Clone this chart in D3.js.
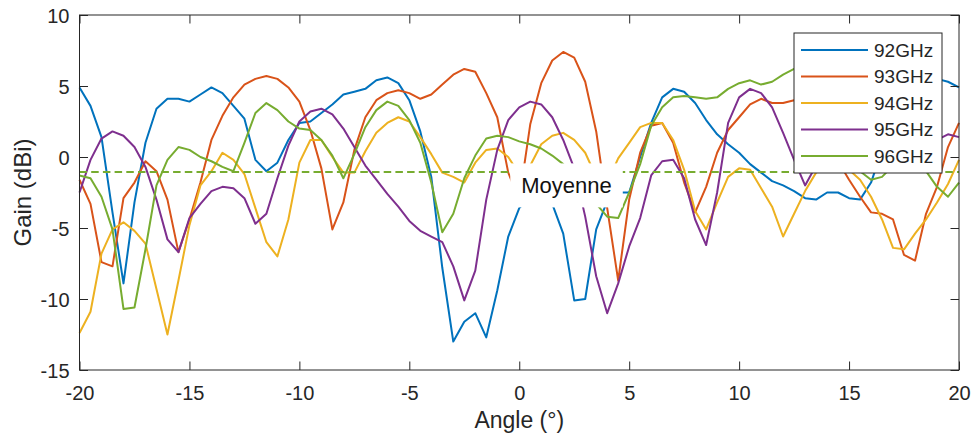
<!DOCTYPE html>
<html>
<head>
<meta charset="utf-8">
<script src="https://cdn.jsdelivr.net/npm/d3@7"></script>
<style>
  html, body { margin: 0; padding: 0; background: #fff; }
  svg { display: block; }
  text { font-family: "Liberation Sans", Arial, Helvetica, sans-serif; fill: #262626; }
</style>
</head>
<body>
<svg id="chart" width="975" height="436"></svg>
<script>
// ---- data ----
const angles = [-20,-19.5,-19,-18.5,-18,-17.5,-17,-16.5,-16,-15.5,-15,-14.5,-14,-13.5,-13,-12.5,-12,-11.5,-11,-10.5,
  -10,-9.5,-9,-8.5,-8,-7.5,-7,-6.5,-6,-5.5,-5,-4.5,-4,-3.5,-3,-2.5,-2,-1.5,-1,-0.5,
  0,0.5,1,1.5,2,2.5,3,3.5,4,4.5,5,5.5,6,6.5,7,7.5,8,8.5,9,9.5,
  10,10.5,11,11.5,12,12.5,13,13.5,14,14.5,15,15.5,16,16.5,17,17.5,18,18.5,19,19.5,20];

const gain92 = [4.9,3.6,1.4,-3.9,-8.9,-3.2,1.0,3.4,4.1,4.1,3.9,4.4,4.9,4.5,3.6,2.7,-0.2,-1.0,-0.4,1.2,
  2.4,2.5,3.1,3.7,4.4,4.6,4.8,5.4,5.6,5.2,4.0,1.8,-1.4,-7.8,-13.0,-11.6,-11.0,-12.7,-9.4,-5.6,
  -3.6,-2.8,-2.5,-3.3,-5.4,-10.1,-10.0,-5.1,-3.1,-2.5,-2.5,0.0,2.4,4.2,4.8,4.6,3.8,2.6,1.6,0.9,
  0.3,-0.5,-1.1,-1.7,-2.0,-2.4,-2.9,-3.0,-2.5,-2.5,-2.9,-3.0,-1.8,0.5,2.5,4.0,5.0,5.5,5.5,5.3,4.9];

const gain93 = [-1.6,-3.3,-7.4,-7.7,-2.9,-1.8,-0.3,-1.0,-3.0,-6.7,-4.4,-1.8,1.2,2.9,4.2,5.1,5.5,5.7,5.5,4.9,
  3.9,1.9,-0.8,-5.1,-3.2,0.5,2.8,4.0,4.5,4.7,4.5,4.1,4.4,5.1,5.8,6.2,6.0,4.5,2.8,-1.1,
  -3.0,2.3,5.2,6.8,7.4,7.0,5.3,1.8,-3.6,-8.7,-3.0,0.3,2.2,2.4,1.0,-1.8,-3.9,-2.1,0.3,1.9,
  2.8,3.7,4.1,3.8,3.8,4.0,3.5,2.5,1.0,-0.3,-1.6,-2.8,-3.9,-4.0,-4.4,-6.9,-7.3,-4.0,-2.1,0.7,2.4];

const gain94 = [-12.4,-10.9,-6.8,-5.1,-4.6,-5.2,-6.1,-9.3,-12.5,-8.7,-4.8,-2.0,-1.0,0.3,-0.2,-1.2,-3.6,-6.0,-7.0,-4.4,
  -0.4,1.2,1.2,0.0,-1.1,-1.1,0.4,1.7,2.4,2.8,2.5,1.4,0.2,-1.1,-1.4,-1.8,-0.4,0.5,0.6,0.0,
  -1.2,-0.6,0.9,1.5,1.7,1.2,0.3,-1.4,-1.8,-0.1,1.0,2.1,2.4,2.4,1.2,-0.9,-3.8,-5.1,-3.2,-1.4,
  -0.8,-0.9,-2.2,-3.5,-5.6,-4.0,-2.4,-1.1,-0.8,-0.7,-0.9,-1.6,-2.8,-4.4,-6.4,-6.5,-5.4,-4.4,-3.2,-1.9,-0.2];

const gain95 = [-2.5,-0.2,1.3,1.8,1.5,0.7,-0.7,-3.0,-5.8,-6.7,-4.3,-3.3,-2.4,-2.1,-2.2,-2.9,-4.7,-4.0,-1.5,0.8,
  2.5,3.2,3.4,3.0,2.0,0.7,-0.6,-1.6,-2.6,-3.5,-4.5,-5.2,-5.6,-6.0,-7.7,-10.1,-8.0,-3.0,0.5,2.6,
  3.5,3.9,3.7,2.8,1.2,-0.8,-4.2,-8.4,-11.0,-8.9,-6.3,-4.3,-1.3,-0.3,-0.2,-1.5,-4.4,-6.2,-2.5,2.4,
  4.2,4.8,4.5,3.5,1.7,-0.2,-2.0,-0.6,0.4,1.0,0.6,0.0,0.5,1.4,2.0,1.6,0.9,0.6,1.2,1.6,1.4];

const gain96 = [-1.3,-1.5,-2.8,-5.1,-10.7,-10.6,-6.5,-2.0,-0.2,0.7,0.5,0.0,-0.3,-0.7,-1.0,1.0,3.1,3.8,3.3,2.5,
  2.0,1.9,1.2,0.1,-1.5,0.2,2.1,3.3,3.9,3.6,2.6,1.0,-1.8,-5.3,-4.0,-1.5,0.1,1.3,1.5,1.4,
  1.1,0.9,0.6,0.1,-0.5,-1.5,-2.5,-3.3,-4.2,-4.3,-2.5,-0.5,2.2,3.5,4.2,4.3,4.2,4.1,4.2,4.8,
  5.2,5.4,5.1,5.3,5.8,6.2,6.4,6.0,4.5,2.5,0.5,-1.0,-1.6,-1.4,-0.6,-0.2,-0.5,-1.0,-2.1,-2.8,-1.8];

const seriesNames = ["92GHz", "93GHz", "94GHz", "95GHz", "96GHz"];
const seriesValues = [gain92, gain93, gain94, gain95, gain96];
const seriesColors = ["#0072BD", "#D95319", "#EDB120", "#7E2F8E", "#77AC30"];
const meanGain = -1.05;
const meanLabel = "Moyenne";
const xTicks = [-20, -15, -10, -5, 0, 5, 10, 15, 20];
const yTicks = [-15, -10, -5, 0, 5, 10];

// ---- layout ----
const svg = d3.select("#chart");
const L = 79.5, R = 959, T = 15, B = 370;
const x = d3.scaleLinear().domain([-20, 20]).range([L, R]);
const y = d3.scaleLinear().domain([-15, 10]).range([B, T]);
const axisColor = "#262626";
const tickLen = 8.5;
const fmt = d => String(d);   // plain hyphen-minus like the original

// Series lines
const line = d3.line().x((d, i) => x(angles[i])).y(d => y(d));
const gLines = svg.append("g");
seriesValues.forEach((vals, k) => {
  gLines.append("path")
    .datum(vals)
    .attr("d", line)
    .attr("fill", "none")
    .attr("stroke", seriesColors[k])
    .attr("stroke-width", 2)
    .attr("stroke-linejoin", "round");
});

// Mean dashed line
svg.append("line")
  .attr("x1", x(-20)).attr("x2", x(20))
  .attr("y1", y(meanGain)).attr("y2", y(meanGain))
  .attr("stroke", "#77AC30").attr("stroke-width", 2)
  .attr("stroke-dasharray", "7.5,4.2");

// Moyenne label with white background
const lab = svg.append("g");
const labRect = lab.append("rect").attr("fill", "#fff");
const labText = lab.append("text")
  .attr("x", x(2.15)).attr("y", y(-2))
  .attr("text-anchor", "middle")
  .attr("dominant-baseline", "central")
  .style("font-size", "22px")
  .style("fill", "#111")
  .text(meanLabel);
const bb = labText.node().getBBox();
labRect.attr("x", bb.x - 11).attr("y", y(-2) - 22)
  .attr("width", bb.width + 22).attr("height", 44);

// Axes
const gx = svg.append("g").attr("transform", `translate(0,${B})`)
  .call(d3.axisBottom(x).tickValues(xTicks).tickSizeInner(-tickLen).tickSizeOuter(0).tickPadding(16).tickFormat(fmt));
const gxt = svg.append("g").attr("transform", `translate(0,${T})`)
  .call(d3.axisTop(x).tickValues(xTicks).tickSizeInner(-tickLen).tickSizeOuter(0).tickFormat(""));
const gy = svg.append("g").attr("transform", `translate(${L},0)`)
  .call(d3.axisLeft(y).tickValues(yTicks).tickSizeInner(-tickLen).tickSizeOuter(0).tickPadding(10).tickFormat(fmt));
const gyr = svg.append("g").attr("transform", `translate(${R},0)`)
  .call(d3.axisRight(y).tickValues(yTicks).tickSizeInner(-tickLen).tickSizeOuter(0).tickFormat(""));
[gx, gxt, gy, gyr].forEach(g => {
  g.select(".domain").remove();
  g.selectAll(".tick line").attr("stroke", axisColor).attr("stroke-width", 1);
  g.selectAll(".tick text").style("font-size", "20px").style("fill", axisColor)
    .attr("font-family", null);
});
gx.selectAll(".tick text").attr("dy", "0.71em");
gy.selectAll(".tick text").attr("dy", "0.35em");

svg.append("rect")
  .attr("x", L).attr("y", T).attr("width", R - L).attr("height", B - T)
  .attr("fill", "none").attr("stroke", axisColor).attr("stroke-width", 1);

// Axis labels
svg.append("text")
  .attr("x", (L + R) / 2).attr("y", 428)
  .attr("text-anchor", "middle")
  .style("font-size", "23px")
  .text("Angle (°)");
svg.append("text")
  .attr("transform", `translate(31,${(T + B) / 2}) rotate(-90)`)
  .attr("text-anchor", "middle")
  .style("font-size", "24px")
  .text("Gain (dBi)");

// Legend
const lg = svg.append("g");
lg.append("rect")
  .attr("x", 794).attr("y", 33).attr("width", 148).attr("height", 140)
  .attr("fill", "#fff").attr("stroke", axisColor).attr("stroke-width", 1);
seriesNames.forEach((name, k) => {
  const cy = 50 + k * 26.5;
  lg.append("line")
    .attr("x1", 801).attr("x2", 868).attr("y1", cy).attr("y2", cy)
    .attr("stroke", seriesColors[k]).attr("stroke-width", 2);
  lg.append("text")
    .attr("x", 874).attr("y", cy)
    .attr("dominant-baseline", "central")
    .style("font-size", "19px")
    .text(name);
});
</script>
</body>
</html>
